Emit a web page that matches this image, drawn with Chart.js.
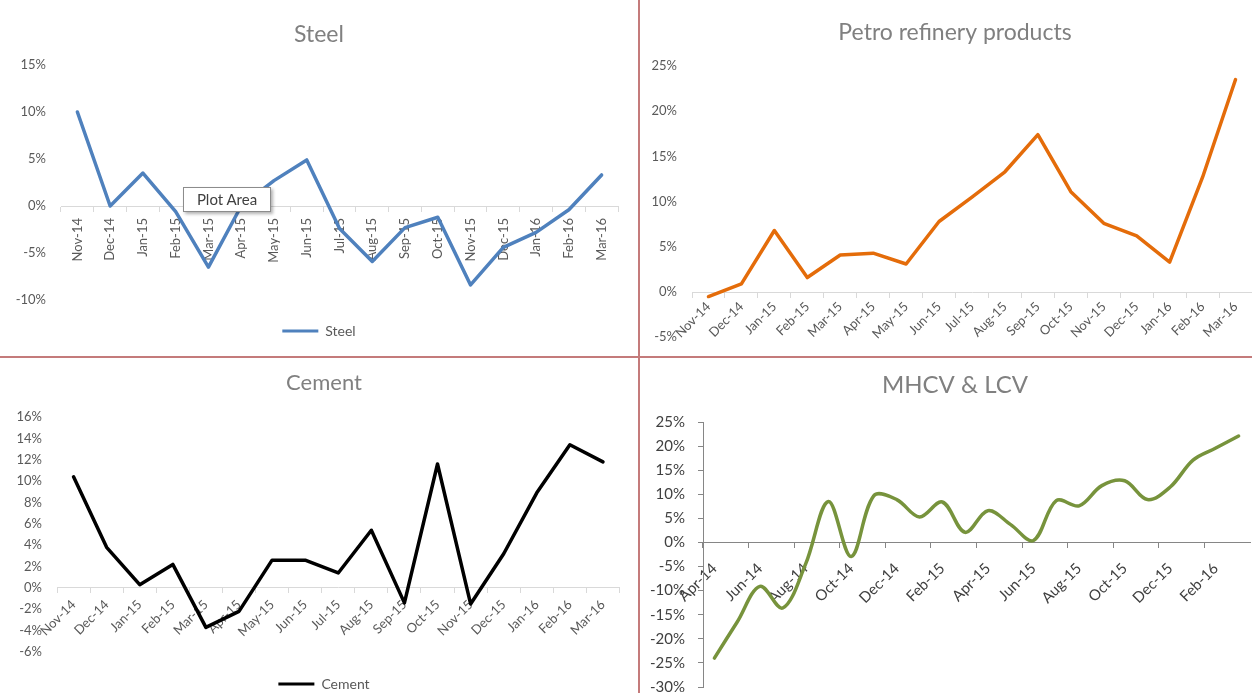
<!DOCTYPE html>
<html>
<head>
<meta charset="utf-8">
<script src="https://cdn.jsdelivr.net/npm/chart.js@4/dist/chart.umd.min.js"></script>
<style>
  html, body { margin: 0; padding: 0; background: #fff; overflow: hidden; }
  body { width: 1252px; height: 693px; position: relative; }
  canvas { position: absolute; }
  .vline { position: absolute; left: 638px; top: 0; width: 2px; height: 693px; background: #c47b7b; }
  .hline { position: absolute; left: 0; top: 356px; width: 1252px; height: 2px; background: #c47b7b; }
  .tip { position: absolute; left: 183px; top: 187px; width: 86px; height: 23px; border: 1px solid #8c8c8c;
         background: #fff; box-shadow: 2px 2px 3px rgba(0,0,0,0.3); font: 15px Lato, sans-serif; color: #404040;
         line-height: 23px; text-align: center; }
</style>
</head>
<body>
<canvas id="steelChart" width="638" height="356" style="left:0;top:0"></canvas>
<canvas id="petroChart" width="630" height="360" style="left:640px;top:0"></canvas>
<canvas id="cementChart" width="648" height="345" style="left:0;top:358px"></canvas>
<canvas id="mhcvChart" width="630" height="351" style="left:640px;top:358px"></canvas>
<div class="vline"></div>
<div class="hline"></div>
<div class="tip">Plot Area</div>

<script>
// monthly growth, %
const months = ['Nov-14', 'Dec-14', 'Jan-15', 'Feb-15', 'Mar-15', 'Apr-15', 'May-15', 'Jun-15', 'Jul-15',
    'Aug-15', 'Sep-15', 'Oct-15', 'Nov-15', 'Dec-15', 'Jan-16', 'Feb-16', 'Mar-16'];
const steel = [10.0, 0.0, 3.5, -0.6, -6.5, 0.0, 2.7, 4.9, -2.4, -5.9, -2.3, -1.2, -8.4, -4.4, -2.8, -0.4, 3.3];
const petro = [-0.5, 0.9, 6.8, 1.6, 4.1, 4.3, 3.1, 7.8, 10.5, 13.3, 17.4, 11.1, 7.6, 6.2, 3.3, 12.7, 23.5];
const cement = [10.4, 3.8, 0.3, 2.2, -3.7, -2.2, 2.6, 2.6, 1.4, 5.4, -1.4, 11.6, -1.5, 3.2, 8.9, 13.4, 11.8];

const mhcvMonths = ['Apr-14', 'May-14', 'Jun-14', 'Jul-14', 'Aug-14', 'Sep-14', 'Oct-14', 'Nov-14', 'Dec-14',
    'Jan-15', 'Feb-15', 'Mar-15', 'Apr-15', 'May-15', 'Jun-15', 'Jul-15', 'Aug-15', 'Sep-15', 'Oct-15',
    'Nov-15', 'Dec-15', 'Jan-16', 'Feb-16', 'Mar-16'];
const mhcv = [-24.0, -16.5, -9.1, -13.6, -4.5, 8.5, -2.9, 9.7, 8.9, 5.3, 8.4, 2.1, 6.6, 3.7, 0.4, 8.7, 7.6,
    11.8, 12.8, 8.9, 11.5, 17.1, 19.6, 22.1];

Chart.defaults.font.family = 'Lato, "Open Sans", sans-serif';
Chart.defaults.animation = false;

const pct = v => v + '%';
const titleColor = '#808080';
const tickColor = '#595959';

function lineLegend(chart) {
    return Chart.defaults.plugins.legend.labels.generateLabels(chart).map(function (l) {
        l.fillStyle = l.strokeStyle;
        l.lineWidth = 0;
        return l;
    });
}

function lineSet(label, data, color) {
    return {
        label: label,
        data: data,
        borderColor: color,
        backgroundColor: color,
        borderWidth: 3.5,
        pointRadius: 0,
        borderJoinStyle: 'round',
        borderCapStyle: 'round',
        tension: 0
    };
}

// x axis sitting on the 0% line, labels hanging under it
function zeroAxis(rotation, pad, size) {
    return {
        position: { y: 0 },
        offset: true,
        afterFit: s => { s.height = 0; },
        grid: { drawOnChartArea: false, offset: true, tickLength: 5, color: '#d9d9d9' },
        border: { color: '#d9d9d9' },
        ticks: { minRotation: rotation, maxRotation: rotation, autoSkip: false, padding: pad, color: tickColor,
            font: { size: size } }
    };
}

// empty right-hand strip, keeps the plot clear of the panel edge
function spacer(w) {
    return {
        type: 'linear', position: 'right',
        afterFit: s => { s.width = w; },
        grid: { display: false, drawTicks: false },
        border: { display: false },
        ticks: { display: false }
    };
}

// Steel
new Chart(document.getElementById('steelChart'), {
    type: 'line',
    data: { labels: months, datasets: [lineSet('Steel', steel, '#4f81bd')] },
    options: {
        responsive: false,
        layout: { padding: { left: 0, right: 0, top: 0, bottom: 8 } },
        plugins: {
            title: { display: true, text: 'Steel', color: titleColor, font: { size: 23, weight: 'normal' },
                padding: { top: 20.5, bottom: 16.9 } },
            legend: { position: 'bottom',
                labels: { color: tickColor, font: { size: 14 }, boxWidth: 36, boxHeight: 3, padding: 24,
                    generateLabels: lineLegend } },
            tooltip: { enabled: false }
        },
        scales: {
            x: zeroAxis(90, 7, 13),
            y: {
                min: -10, max: 15,
                afterFit: s => { s.width = 61; },
                grid: { display: false, drawTicks: false },
                border: { display: false },
                ticks: { stepSize: 5, callback: pct, padding: 15, color: tickColor, font: { size: 13 } }
            },
            y2: spacer(20)
        }
    }
});

// Petro refinery products
new Chart(document.getElementById('petroChart'), {
    type: 'line',
    data: { labels: months, datasets: [lineSet('Petro refinery products', petro, '#e46c0a')] },
    options: {
        responsive: false,
        layout: { padding: { left: 0, right: 0, top: 0, bottom: 0 } },
        plugins: {
            title: { display: true, text: 'Petro refinery products', color: titleColor,
                font: { size: 23, weight: 'normal' }, padding: { top: 19.2, bottom: 19.2 } },
            legend: { display: false },
            tooltip: { enabled: false }
        },
        scales: {
            x: zeroAxis(45, 2, 13),
            y: {
                min: -5, max: 25,
                afterFit: s => { s.width = 52; },
                grid: { display: false, drawTicks: false },
                border: { display: false },
                ticks: { stepSize: 5, callback: pct, padding: 15, color: tickColor, font: { size: 13 } }
            },
            y2: spacer(18)
        }
    }
});

// Cement
new Chart(document.getElementById('cementChart'), {
    type: 'line',
    data: { labels: months, datasets: [lineSet('Cement', cement, '#000000')] },
    options: {
        responsive: false,
        layout: { padding: { left: 0, right: 0, top: 0, bottom: 2 } },
        plugins: {
            title: { display: true, text: 'Cement', color: titleColor, font: { size: 22, weight: 'normal' },
                padding: { top: 11.8, bottom: 20.8 } },
            legend: { position: 'bottom',
                labels: { color: tickColor, font: { size: 14 }, boxWidth: 36, boxHeight: 3, padding: 25,
                    generateLabels: lineLegend } },
            tooltip: { enabled: false }
        },
        scales: {
            x: zeroAxis(45, 4, 13),
            y: {
                min: -6, max: 16,
                afterFit: s => { s.width = 57; },
                grid: { display: false, drawTicks: false },
                border: { display: false },
                ticks: { stepSize: 2, callback: pct, padding: 15, color: tickColor, font: { size: 13 } }
            },
            y2: spacer(28.5)
        }
    }
});

// MHCV & LCV
const mhcvSet = lineSet('MHCV & LCV', mhcv, '#77933c');
mhcvSet.tension = 0.35;
new Chart(document.getElementById('mhcvChart'), {
    type: 'line',
    data: { labels: mhcvMonths, datasets: [mhcvSet] },
    options: {
        responsive: false,
        layout: { padding: { left: 0, right: 0, top: 0, bottom: 0 } },
        plugins: {
            title: { display: true, text: 'MHCV & LCV', color: titleColor, font: { size: 24, weight: 'normal' },
                padding: { top: 12.6, bottom: 22.6 } },
            legend: { display: false },
            tooltip: { enabled: false }
        },
        scales: {
            x: {
                position: { y: 0 },
                offset: true,
                afterFit: s => { s.height = 0; },
                grid: { drawOnChartArea: false, offset: true, tickLength: 5,
                    tickColor: c => (c.index % 2 === 0 ? '#868686' : 'rgba(0,0,0,0)') },
                border: { color: '#868686' },
                ticks: { minRotation: 45, maxRotation: 45, autoSkip: false, padding: 12, color: '#404040',
                    font: { size: 15 },
                    callback: (v, i) => (i % 2 === 0 ? mhcvMonths[i] : '') }
            },
            y: {
                min: -30, max: 25,
                afterFit: s => { s.width = 63; },
                grid: { drawOnChartArea: false, tickLength: 5, color: '#868686' },
                border: { color: '#868686' },
                ticks: { stepSize: 5, callback: pct, padding: 13, color: '#404040', font: { size: 15 } }
            },
            y2: spacer(20)
        }
    }
});
</script>
</body>
</html>
